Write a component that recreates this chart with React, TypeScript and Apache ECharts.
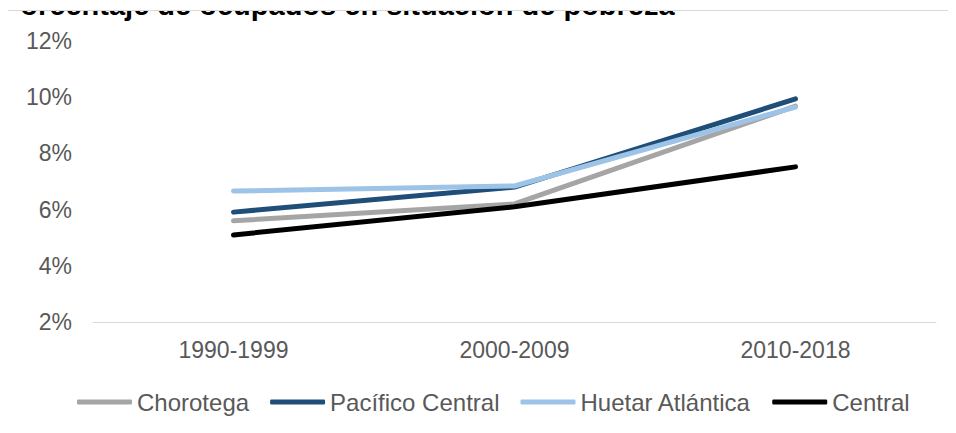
import React, { useEffect, useRef } from "react";
import * as echarts from "echarts";

const categories = ["1990-1999", "2000-2009", "2010-2018"];
const seriesNames = ["Chorotega", "Pacífico Central", "Huetar Atlántica", "Central"];
const chorotega = [5.6, 6.2, 9.68];
const pacificoCentral = [5.91, 6.8, 9.94];
const huetarAtlantica = [6.66, 6.84, 9.65];
const central = [5.1, 6.1, 7.52];
const seriesColors = ["#a5a5a5", "#1f4e79", "#9dc3e6", "#000000"];
const titleText = "Porcentaje de ocupados en situación de pobreza";

export default function App() {
  const ref = useRef<HTMLDivElement>(null);
  useEffect(() => {
    if (!ref.current) return;
    const chart = echarts.init(ref.current, undefined, { renderer: "svg" });
    const values = [chorotega, pacificoCentral, huetarAtlantica, central];
    const font = "'Liberation Sans', Arial, sans-serif";
    chart.setOption({
      animation: false,
      textStyle: { fontFamily: font },
      graphic: [
        {
          type: "text",
          z: 10,
          style: {
            text: titleText,
            x: 1,
            y: 5,
            fill: "#000",
            font: `bold 29px ${font}`,
            verticalAlign: "middle",
            align: "left",
          },
        },
        {
          type: "rect",
          z: 11,
          shape: { x: 0, y: 7.5, width: 960, height: 3 },
          style: { fill: "#fff" },
        },
        {
          type: "line",
          z: 11,
          shape: { x1: 7.5, y1: 10.5, x2: 956, y2: 10.5 },
          style: { stroke: "#d9d9d9", lineWidth: 1 },
        },
        {
          type: "line",
          z: 11,
          shape: { x1: 7.5, y1: 10.5, x2: 7.5, y2: 433 },
          style: { stroke: "#d9d9d9", lineWidth: 1 },
        },
      ],
      grid: { left: 93, right: 20, top: 41, bottom: 111, containLabel: false },
      legend: {
        left: 77,
        top: 390,
        padding: 0,
        itemWidth: 55,
        itemHeight: 5,
        itemGap: 21,
        icon: "roundRect",
        textStyle: { fontSize: 24, color: "#595959", fontFamily: font },
        data: seriesNames,
      },
      xAxis: {
        type: "category",
        data: categories,
        boundaryGap: true,
        axisLine: { show: true, lineStyle: { color: "#d9d9d9", width: 1 } },
        axisTick: { show: false },
        axisLabel: { fontSize: 23, color: "#595959", margin: 16, fontFamily: font },
      },
      yAxis: {
        type: "value",
        min: 2,
        max: 12,
        interval: 2,
        axisLine: { show: false },
        axisTick: { show: false },
        splitLine: { show: false },
        axisLabel: {
          fontSize: 23,
          color: "#595959",
          margin: 21,
          fontFamily: font,
          formatter: "{value}%",
        },
      },
      series: seriesNames.map((name, i) => ({
        name,
        type: "line",
        data: values[i],
        color: seriesColors[i],
        showSymbol: false,
        symbol: "none",
        lineStyle: { width: 5, color: seriesColors[i], cap: "round", join: "round" },
        itemStyle: { color: seriesColors[i] },
      })),
    });
    return () => chart.dispose();
  }, []);
  return <div ref={ref} style={{ width: 956, height: 433, marginLeft: -8, marginTop: -8 }} />;
}
